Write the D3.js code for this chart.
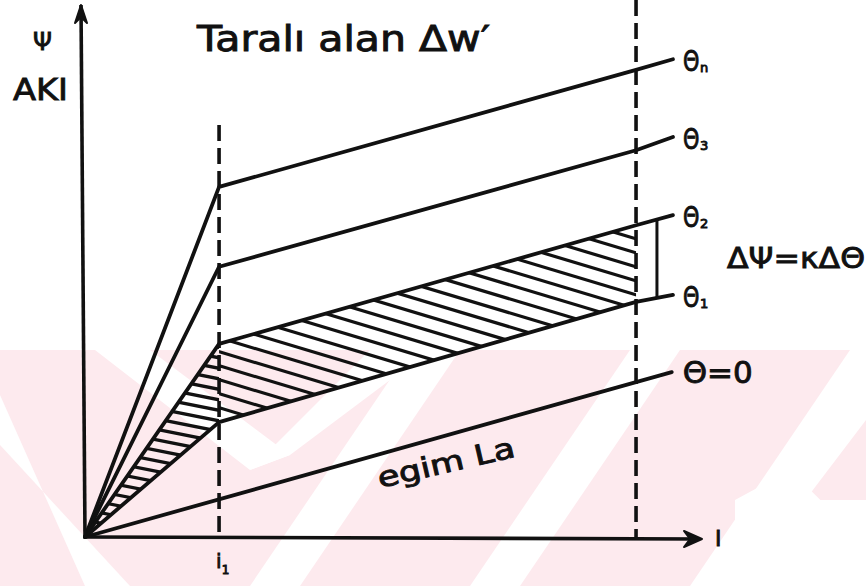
<!DOCTYPE html>
<html>
<head>
<meta charset="utf-8">
<script src="https://cdn.jsdelivr.net/npm/d3@7"></script>
<style>
  html, body { margin: 0; padding: 0; background: #fff; }
  text { font-family: "DejaVu Sans", sans-serif; fill: #111; stroke: #111; stroke-width: 0.9px; }
</style>
</head>
<body>
<svg id="chart" width="866" height="586"></svg>
<script>
// Flux linkage ψ (AKI) against current i for several rotor angles θ.
// Each θ curve rises steeply up to i1, then climbs with a gentler slope.
const curveLabels   = ["n", "3", "2", "1"];
const kneeCurrent   = 2.18;   // i1
const edgeCurrent   = 8.96;   // right-hand dashed limit
const endCurrent    = 9.56;   // where each curve ends, next to its label
const kneeFlux      = [6.58, 5.08, 3.63, 2.16];
const edgeFlux      = [8.78, 7.27, 5.86, 4.42];
const endFlux       = [8.98, 7.52, 6.05, 4.55];
const zeroCurrent   = [0, 9.54]; // θ = 0, straight line of slope La
const zeroFlux      = [0, 3.10];
const axisMax       = 10;

const svg = d3.select("#chart");
const W = 866, H = 586;
const x = d3.scaleLinear().domain([0, axisMax]).range([85, 700]);
const y = d3.scaleLinear().domain([0, axisMax]).range([537, 5]);
const ink = "#111";

// ---- faint background pattern ----
const bg = svg.append("g");
bg.append("rect").attr("x", 0).attr("y", 350).attr("width", W).attr("height", H - 350)
  .attr("fill", "#fdeaee");
const gaps = [
  [[0, 395], [0, 445], [130, 586], [85, 586]],
  [[95, 350], [150, 350], [290, 455], [250, 470]],
  [[250, 470], [290, 455], [430, 350], [370, 350]],
  [[470, 586], [520, 586], [680, 350], [630, 350]],
  [[250, 586], [300, 586], [460, 350], [410, 350]],
  [[735, 500], [866, 500], [866, 586], [735, 586]],
  [[690, 586], [740, 586], [866, 420], [866, 350], [850, 350]],
  [[735, 500], [790, 470], [866, 545], [866, 586]]
];
bg.selectAll("path.gap").data(gaps).join("path")
  .attr("class", "gap")
  .attr("d", d => d3.line()(d) + "Z")
  .attr("fill", "#fff");

// ---- hatched area between θ1 and θ2 ----
const hatchTri = [[0, 0], [kneeCurrent, kneeFlux[2]], [kneeCurrent, kneeFlux[3]]];
const hatchBand = [[kneeCurrent, kneeFlux[2]], [edgeCurrent, edgeFlux[2]],
                   [edgeCurrent, edgeFlux[3]], [kneeCurrent, kneeFlux[3]]];
const toPx = pts => pts.map(p => [x(p[0]), y(p[1])]);
const defs = svg.append("defs");
defs.append("clipPath").attr("id", "clipTri").append("path")
  .attr("d", d3.line()(toPx(hatchTri)) + "Z");
defs.append("clipPath").attr("id", "clipBand").append("path")
  .attr("d", d3.line()(toPx(hatchBand)) + "Z");

function hatch(clipId, slope, step) {
  const g = svg.append("g").attr("clip-path", `url(#${clipId})`);
  const lines = d3.range(-400, 700, step);
  g.selectAll("line").data(lines).join("line")
    .attr("x1", 0).attr("y1", d => d)
    .attr("x2", W).attr("y2", d => d + slope * W)
    .attr("stroke", ink).attr("stroke-width", 3.2);
}
hatch("clipTri", 0.2, 10.5);
hatch("clipBand", 0.3, 14);

// ---- dashed limits at i1 and at the right ----
const dash = "16,7";
svg.append("line")
  .attr("x1", x(kneeCurrent)).attr("x2", x(kneeCurrent))
  .attr("y1", 125).attr("y2", y(0))
  .attr("stroke", ink).attr("stroke-width", 3.6).attr("stroke-dasharray", dash);
svg.append("line")
  .attr("x1", x(edgeCurrent)).attr("x2", x(edgeCurrent))
  .attr("y1", 0).attr("y2", y(0))
  .attr("stroke", ink).attr("stroke-width", 3.6).attr("stroke-dasharray", dash);

// ---- θ curves ----
const line = d3.line().x(d => x(d[0])).y(d => y(d[1]));
const curves = curveLabels.map((lab, i) => ({
  lab,
  pts: [[0, 0], [kneeCurrent, kneeFlux[i]], [edgeCurrent, edgeFlux[i]], [endCurrent, endFlux[i]]]
}));
svg.selectAll("path.curve").data(curves).join("path")
  .attr("class", "curve")
  .attr("d", d => line(d.pts))
  .attr("fill", "none").attr("stroke", ink).attr("stroke-width", 3.8)
  .attr("stroke-linejoin", "round").attr("stroke-linecap", "round");

svg.append("path")
  .attr("d", line(zeroCurrent.map((c, i) => [c, zeroFlux[i]])))
  .attr("fill", "none").attr("stroke", ink).attr("stroke-width", 3.8)
  .attr("stroke-linecap", "round");

// ---- axes with arrows ----
svg.append("line").attr("x1", x(0)).attr("y1", y(0)).attr("x2", x(0) - 4).attr("y2", y(axisMax))
  .attr("stroke", ink).attr("stroke-width", 3.6);
svg.append("line").attr("x1", x(0)).attr("y1", y(0)).attr("x2", x(axisMax)).attr("y2", y(0) + 2)
  .attr("stroke", ink).attr("stroke-width", 3.6);
const yTip = [x(0) - 4, y(axisMax)];
svg.append("path")
  .attr("d", `M${yTip[0]},${yTip[1]} L${yTip[0] - 6},${yTip[1] + 18} L${yTip[0]},${yTip[1] + 12} L${yTip[0] + 6},${yTip[1] + 18}Z`)
  .attr("fill", ink).attr("stroke", ink).attr("stroke-width", 2).attr("stroke-linejoin", "round");
const xTip = [x(axisMax) + 2, y(0) + 2];
svg.append("path")
  .attr("d", `M${xTip[0]},${xTip[1]} L${xTip[0] - 18},${xTip[1] - 8} L${xTip[0] - 12},${xTip[1]} L${xTip[0] - 18},${xTip[1] + 8}Z`)
  .attr("fill", ink).attr("stroke", ink).attr("stroke-width", 2).attr("stroke-linejoin", "round");

// ---- ΔΨ bracket between θ1 and θ2 ----
const bracketCurrent = 9.3;
const interp = (i, c) => edgeFlux[i] + (endFlux[i] - edgeFlux[i]) * (c - edgeCurrent) / (endCurrent - edgeCurrent);
svg.append("line")
  .attr("x1", x(bracketCurrent)).attr("x2", x(bracketCurrent))
  .attr("y1", y(interp(2, bracketCurrent))).attr("y2", y(interp(3, bracketCurrent)))
  .attr("stroke", ink).attr("stroke-width", 3);

// ---- labels ----
svg.append("text").attr("x", 33).attr("y", 50).attr("font-size", 24).text("Ψ");
svg.append("text").attr("x", 13).attr("y", 100).attr("font-size", 31)
  .attr("textLength", 55).attr("lengthAdjust", "spacingAndGlyphs").text("AKI");
svg.append("text").attr("x", 197).attr("y", 51).attr("font-size", 35)
  .attr("textLength", 293).attr("lengthAdjust", "spacingAndGlyphs").text("Taralı alan Δw′");

curves.forEach((c, i) => {
  const px = x(endCurrent) + 10, py = y(endFlux[i]) + 12;
  svg.append("text")
    .attr("transform", `translate(${px},${py}) scale(0.72,1)`)
    .attr("font-size", 29).text("Θ");
  svg.append("text").attr("x", px + 17).attr("y", py + 1)
    .attr("font-size", 13).text(c.lab);
});
svg.append("text").attr("x", x(zeroCurrent[1]) + 11).attr("y", y(zeroFlux[1]) + 11)
  .attr("font-size", 30).attr("textLength", 70).attr("lengthAdjust", "spacingAndGlyphs").text("Θ=0");
svg.append("text").attr("x", 727).attr("y", 268).attr("font-size", 29)
  .attr("textLength", 138).attr("lengthAdjust", "spacingAndGlyphs").text("ΔΨ=κΔΘ");

svg.append("text")
  .attr("transform", `translate(380,488) rotate(-13)`)
  .attr("font-size", 28).attr("textLength", 140).attr("lengthAdjust", "spacingAndGlyphs")
  .text("egim La");

const iLab = svg.append("text").attr("x", x(kneeCurrent) - 3).attr("y", 568).attr("font-size", 20);
iLab.append("tspan").text("i");
iLab.append("tspan").attr("font-size", 12).attr("dy", 6).text("1");
svg.append("text").attr("x", 715).attr("y", 546).attr("font-size", 22).text("I");
</script>
</body>
</html>
